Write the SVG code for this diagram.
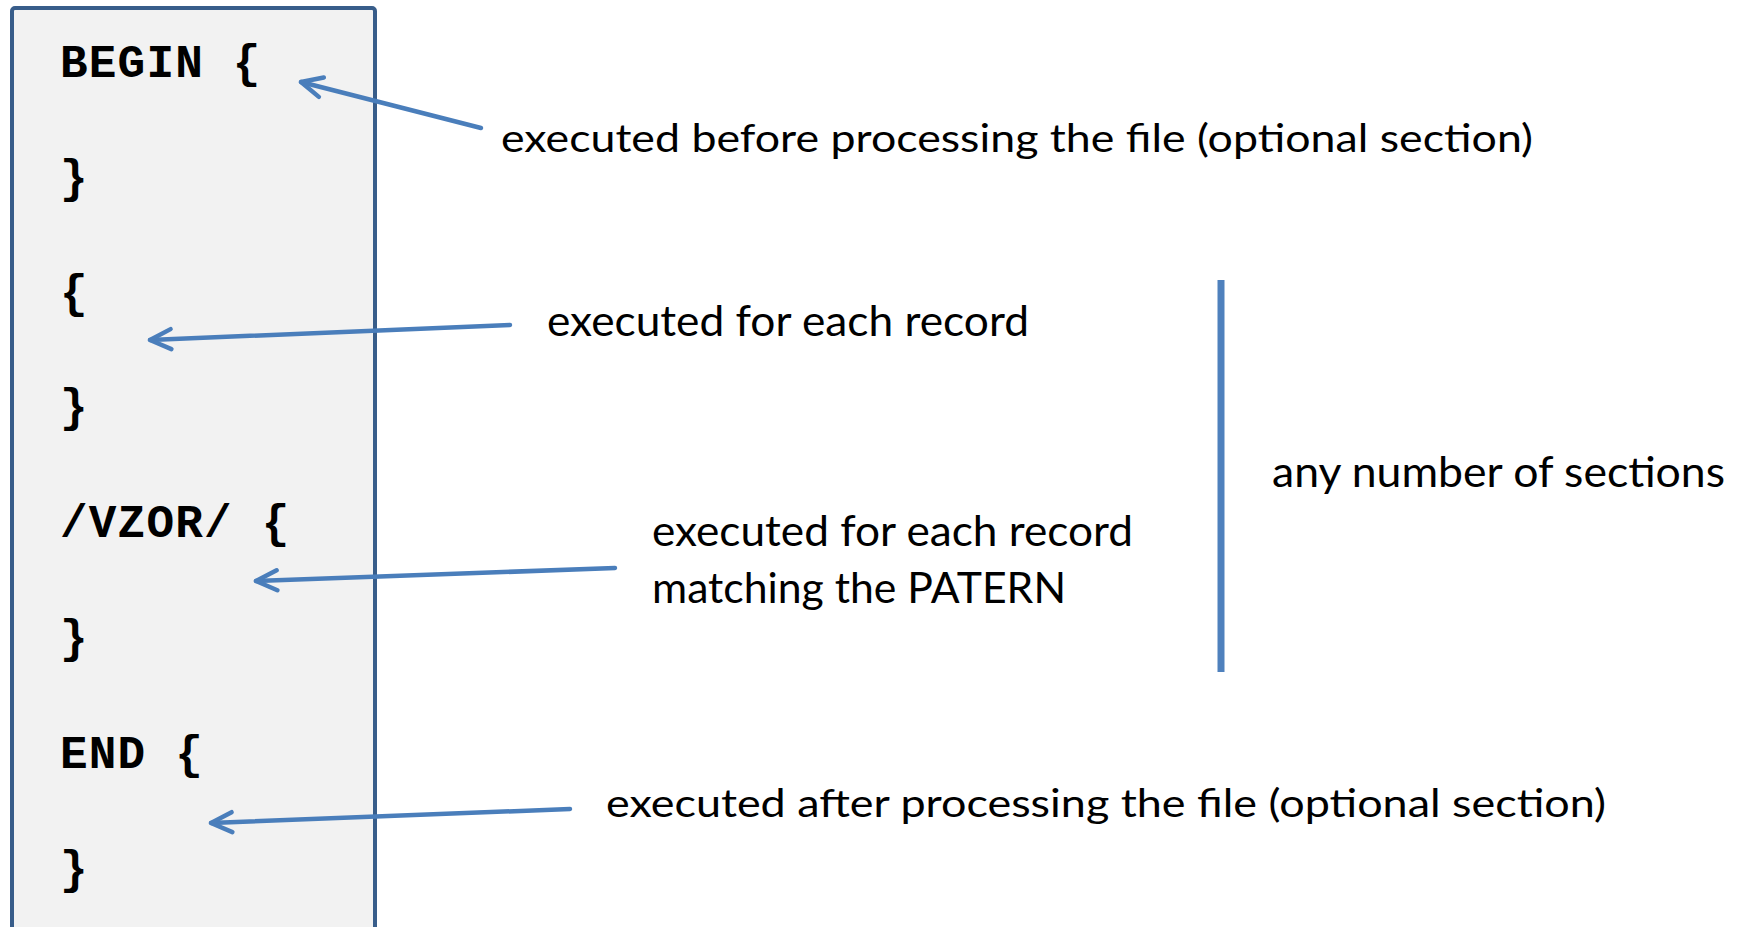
<svg xmlns="http://www.w3.org/2000/svg" width="1745" height="927" viewBox="0 0 1745 927">
<style>
.code{font-family:"Liberation Mono","Courier New",monospace;font-weight:bold;font-size:46px;letter-spacing:1.2px;fill:#000;white-space:pre}
.lbl{font-family:Lato,"Open Sans",sans-serif;fill:#000}
.big{font-size:43px}
.small{font-size:38px}
.conn{stroke:#4a7ebb;stroke-width:4.5;fill:none;stroke-linecap:round}
</style>
<defs>
<marker id="ah" viewBox="-26 -14 30 28" refX="0" refY="0" markerWidth="30" markerHeight="28" markerUnits="userSpaceOnUse" orient="auto">
<path d="M-21,-10 L0,0 L-21,10" fill="none" stroke="#4a7ebb" stroke-width="4.5" stroke-linecap="round" stroke-linejoin="round"/>
</marker>
</defs>
<rect width="1745" height="927" fill="#fff"/>
<g id="codebox">
<rect x="12" y="8" width="363" height="940" rx="3" fill="#f2f2f2" stroke="#385d8a" stroke-width="4"/>
<text class="code" x="60" y="77" xml:space="preserve">BEGIN {</text>
<text class="code" x="60" y="192">}</text>
<text class="code" x="60" y="307">{</text>
<text class="code" x="60" y="421">}</text>
<text class="code" x="60" y="537" xml:space="preserve">/VZOR/ {</text>
<text class="code" x="60" y="652">}</text>
<text class="code" x="60" y="768" xml:space="preserve">END {</text>
<text class="code" x="60" y="883">}</text>
</g>
<g id="label-begin"><text class="lbl small" x="501" y="152" textLength="1032" lengthAdjust="spacingAndGlyphs">executed before processing the file (optional section)</text></g>
<g id="label-each"><text class="lbl big" x="547" y="336" textLength="482" lengthAdjust="spacingAndGlyphs">executed for each record</text></g>
<g id="label-pattern">
<text class="lbl big" x="652" y="546" textLength="481" lengthAdjust="spacingAndGlyphs">executed for each record</text>
<text class="lbl big" x="652" y="603" textLength="414" lengthAdjust="spacingAndGlyphs">matching the PATERN</text>
</g>
<g id="label-end"><text class="lbl small" x="606" y="817" textLength="1000" lengthAdjust="spacingAndGlyphs">executed after processing the file (optional section)</text></g>
<g id="label-sections"><text class="lbl big" x="1272" y="487" textLength="453" lengthAdjust="spacingAndGlyphs">any number of sections</text></g>
<g id="connectors">
<line class="conn" x1="481" y1="128" x2="301" y2="82" marker-end="url(#ah)"/>
<line class="conn" x1="510" y1="325" x2="150" y2="340" marker-end="url(#ah)"/>
<line class="conn" x1="615" y1="568" x2="256" y2="581" marker-end="url(#ah)"/>
<line class="conn" x1="570" y1="809" x2="211" y2="823" marker-end="url(#ah)"/>
<line x1="1221" y1="280" x2="1221" y2="672" stroke="#4f81bd" stroke-width="7"/>
</g>
</svg>
